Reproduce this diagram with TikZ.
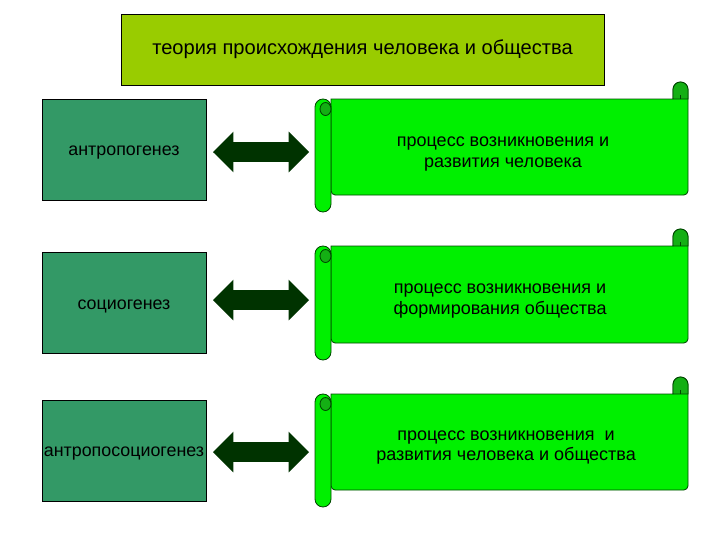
\documentclass[tikz,border=0pt]{standalone}
\usepackage{fontspec}
\setmainfont{Liberation Sans}
\usetikzlibrary{shapes.arrows}

\definecolor{titlefill}{RGB}{153,204,0}
\definecolor{genfill}{RGB}{51,153,102}
\definecolor{arrowgreen}{RGB}{0,51,0}
\definecolor{scrollfill}{RGB}{0,240,0}
\definecolor{curlfill}{RGB}{20,175,20}
\definecolor{scrollline}{RGB}{0,70,0}

\tikzset{
  titlebox/.style={draw=black, fill=titlefill, line width=0.6pt,
    minimum width={483*0.025cm}, minimum height={71*0.025cm},
    inner sep=0pt, text height=0.75em, text depth=0pt,
    font=\fontsize{14.3}{17}\selectfont},
  genbox/.style={draw=black, fill=genfill, line width=0.6pt,
    minimum width={164*0.025cm}, minimum height={101*0.025cm},
    inner sep=0pt, text height=0.9em, text depth=0pt,
    font=\fontsize{12.7}{15}\selectfont},
  dblarrow/.style={shape=double arrow, fill=arrowgreen, draw=none,
    minimum height={96*0.025cm},
    double arrow head extend={10.5*0.025cm}, inner sep=0pt},
  scrollpart/.style={draw=scrollline, line width=0.6pt},
  scrolltext/.style={align=center, inner sep=0pt,
    font=\fontsize{12.8}{14.5}\selectfont}
}

\begin{document}
\begin{tikzpicture}[x=0.025cm, y=-0.025cm, >=stealth]
\useasboundingbox (0,0) rectangle (720,540);

% --- Заголовок ---
\node[titlebox] (title) at (362.5,49.5) {теория происхождения человека и общества};

% --- Свитки: верх тела / низ тела ---
\foreach \j/\t/\b in {1/99/195, 2/246/343, 3/394/490} {
  % тело свитка с завитком справа
  \filldraw[scrollpart, fill=scrollfill]
    (331,\t) -- (673,\t) -- (673,\t-9.5)
    arc[start angle=180, end angle=360, radius=7.5]
    [rounded corners=3pt] -- (688,\b) -- (331,\b) [sharp corners] -- cycle;
  % завиток справа
  \filldraw[scrollpart, fill=curlfill]
    (673,\t) -- (673,\t-9.5)
    arc[start angle=180, end angle=360, radius=7.5] -- (688,\t) -- cycle;
  \draw[scrollpart] (680.5,\t) -- (680.5,\t-4);
  % рулон слева
  \filldraw[scrollpart, fill=scrollfill, rounded corners=0.2cm]
    (315,\t) rectangle (331,\b+17);
  \filldraw[scrollpart, fill=curlfill] (325.5,\t+10) ellipse [x radius=5.5, y radius=6.5];
}

% --- Тексты свитков ---
\node[scrolltext] (proc1) at (503,154) {процесс возникновения и\\развития человека};
\node[scrolltext] (proc2) at (500,301) {процесс возникновения и\\формирования общества};
\node[scrolltext] (proc3) at (506,447.5) {процесс возникновения \ и\\развития человека и общества};

% --- Левые блоки ---
\foreach \j/\yc/\lab in {1/149.5/антропогенез, 2/303/социогенез, 3/450.5/антропосоциогенез} {
  \node[genbox] (gen\j) at (124,\yc) {\lab};
}

% --- Двойные стрелки ---
\foreach \j/\ya in {1/152, 2/300, 3/452} {
  \node[dblarrow] (arr\j) at (261,\ya) {\rule{0pt}{0.475cm}};
}

\end{tikzpicture}
\end{document}
